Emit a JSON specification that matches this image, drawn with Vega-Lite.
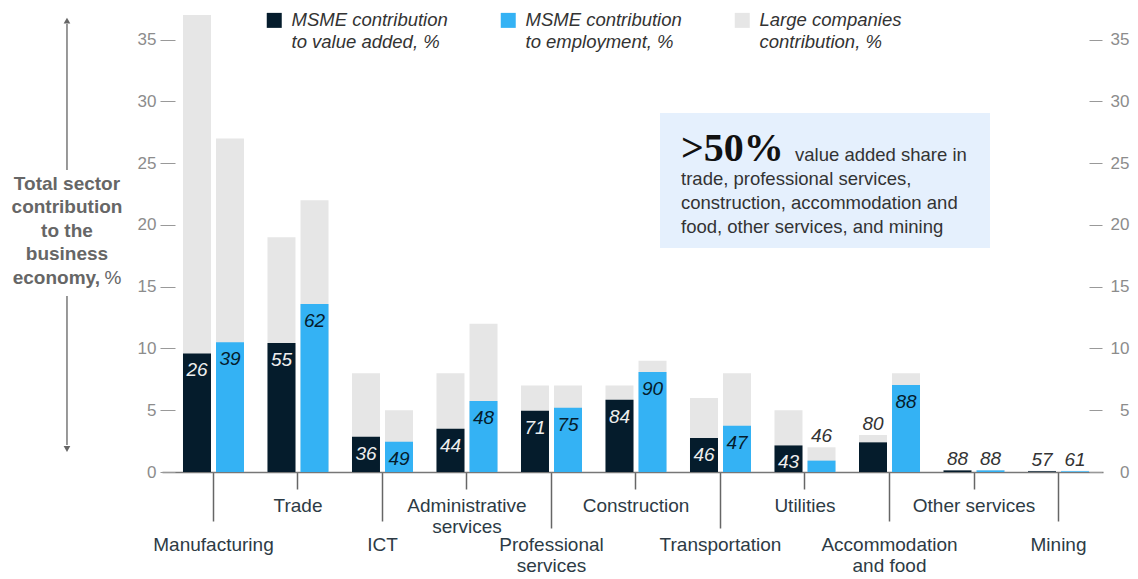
{
  "$schema": "https://vega.github.io/schema/vega-lite/v6.json",
  "width": 941,
  "height": 457,
  "autosize": "none",
  "padding": {"left": 162, "top": 15, "right": 35, "bottom": 107},
  "background": "white",
  "config": {"view": {"stroke": null}, "font": "Liberation Sans"},
  "datasets": {
    "bars": [
      {"sector": "Manufacturing", "measure": "VA", "msme": 9.6, "total": 37, "share": 26},
      {"sector": "Manufacturing", "measure": "EMP", "msme": 10.5, "total": 27, "share": 39},
      {"sector": "Trade", "measure": "VA", "msme": 10.45, "total": 19, "share": 55},
      {"sector": "Trade", "measure": "EMP", "msme": 13.6, "total": 22, "share": 62},
      {"sector": "ICT", "measure": "VA", "msme": 2.85, "total": 8, "share": 36},
      {"sector": "ICT", "measure": "EMP", "msme": 2.45, "total": 5, "share": 49},
      {"sector": "Administrative services", "measure": "VA", "msme": 3.5, "total": 8, "share": 44},
      {"sector": "Administrative services", "measure": "EMP", "msme": 5.75, "total": 12, "share": 48},
      {"sector": "Professional services", "measure": "VA", "msme": 4.95, "total": 7, "share": 71},
      {"sector": "Professional services", "measure": "EMP", "msme": 5.2, "total": 7, "share": 75},
      {"sector": "Construction", "measure": "VA", "msme": 5.85, "total": 7, "share": 84},
      {"sector": "Construction", "measure": "EMP", "msme": 8.1, "total": 9, "share": 90},
      {"sector": "Transportation", "measure": "VA", "msme": 2.75, "total": 6, "share": 46},
      {"sector": "Transportation", "measure": "EMP", "msme": 3.75, "total": 8, "share": 47},
      {"sector": "Utilities", "measure": "VA", "msme": 2.15, "total": 5, "share": 43},
      {"sector": "Utilities", "measure": "EMP", "msme": 0.92, "total": 2, "share": 46},
      {"sector": "Accommodation and food", "measure": "VA", "msme": 2.4, "total": 3, "share": 80},
      {"sector": "Accommodation and food", "measure": "EMP", "msme": 7.05, "total": 8, "share": 88},
      {"sector": "Other services", "measure": "VA", "msme": 0.13, "total": 0.15, "share": 88},
      {"sector": "Other services", "measure": "EMP", "msme": 0.13, "total": 0.15, "share": 88},
      {"sector": "Mining", "measure": "VA", "msme": 0.06, "total": 0.1, "share": 57},
      {"sector": "Mining", "measure": "EMP", "msme": 0.06, "total": 0.1, "share": 61}
    ]
  },
  "layer": [
    {
      "data": {"name": "bars"},
      "mark": {"type": "bar"},
      "encoding": {
        "x": {"field": "sector", "type": "nominal", "sort": null,
          "scale": {"domain": ["Manufacturing","Trade","ICT","Administrative services","Professional services","Construction","Transportation","Utilities","Accommodation and food","Other services","Mining"], "paddingInner": 0.278, "paddingOuter": 0.207, "align": 0.6},
          "axis": {"title": null, "labelAngle": 0, "labelOverlap": false, "labelLimit": 400, "labelFontSize": 19, "labelColor": "#2d3b45", "labelBaseline": "top", "labelLineHeight": 21,
            "domainColor": "#777777", "domainWidth": 1.5, "tickColor": "#666666", "tickWidth": 1.5,
            "tickSize": {"condition": [
              {"test": "indexof(['Manufacturing','ICT','Accommodation and food','Mining'], datum.value) >= 0", "value": 49},
              {"test": "indexof(['Professional services','Transportation'], datum.value) >= 0", "value": 56}
            ], "value": 17},
            "labelPadding": {"condition": [
              {"test": "indexof(['Manufacturing','ICT','Accommodation and food','Mining'], datum.value) >= 0", "value": 14}
            ], "value": 7},
            "labelExpr": "datum.label == 'Administrative services' ? ['Administrative','services'] : datum.label == 'Professional services' ? ['Professional','services'] : datum.label == 'Accommodation and food' ? ['Accommodation','and food'] : datum.label"
          }},
        "xOffset": {"field": "measure", "type": "nominal", "scale": {"domain": ["VA","EMP"], "paddingInner": 0.152, "paddingOuter": 0}},
        "y": {"field": "total", "type": "quantitative",
          "scale": {"domain": [0, 37], "nice": false},
          "axis": {"orient": "left", "title": null, "values": [0,5,10,15,20,25,30,35], "domain": false, "grid": false, "offset": -13, "tickSize": 15, "tickColor": "#999999", "tickWidth": 1, "labelPadding": 4, "labelFontSize": 17, "labelColor": "#8c8c8c"}},
        "color": {"datum": "LARGE", "type": "nominal",
          "scale": {"domain": ["VA","EMP","LARGE"], "range": ["#051c2c","#34b2f4","#e6e6e6"]},
          "legend": {"orient": "none", "legendX": 103, "legendY": -4, "direction": "horizontal", "title": null, "symbolType": "square", "symbolSize": 225, "symbolStrokeWidth": 0, "labelFontSize": 18.5, "labelFontStyle": "italic", "labelColor": "#333333", "labelLimit": 300, "labelOffset": 8, "columnPadding": 51,
            "encode": {"labels": {"update": {"lineHeight": {"value": 22}}}},
            "labelExpr": "datum.value == 'VA' ? ['MSME contribution','to value added, %'] : datum.value == 'EMP' ? ['MSME contribution','to employment, %'] : ['Large companies','contribution, %']"}}
      }
    },
    {
      "data": {"name": "bars"},
      "mark": {"type": "bar"},
      "encoding": {
        "x": {"field": "sector", "type": "nominal", "sort": null,
          "scale": {"domain": ["Manufacturing","Trade","ICT","Administrative services","Professional services","Construction","Transportation","Utilities","Accommodation and food","Other services","Mining"], "paddingInner": 0.278, "paddingOuter": 0.207, "align": 0.6},
          "axis": null},
        "xOffset": {"field": "measure", "type": "nominal", "scale": {"domain": ["VA","EMP"], "paddingInner": 0.152, "paddingOuter": 0}},
        "y": {"field": "msme", "type": "quantitative",
          "scale": {"domain": [0, 37], "nice": false},
          "axis": {"orient": "right", "title": null, "values": [0,5,10,15,20,25,30,35], "domain": false, "grid": false, "offset": -14, "tickSize": 13, "tickColor": "#999999", "tickWidth": 1, "labelPadding": 27, "labelAlign": "right", "labelFontSize": 17, "labelColor": "#8c8c8c"}},
        "color": {"field": "measure", "type": "nominal",
          "scale": {"domain": ["VA","EMP","LARGE"], "range": ["#051c2c","#34b2f4","#e6e6e6"]},
          "legend": {"orient": "none", "legendX": 103, "legendY": -4, "direction": "horizontal", "title": null, "symbolType": "square", "symbolSize": 225, "symbolStrokeWidth": 0, "labelFontSize": 18.5, "labelFontStyle": "italic", "labelColor": "#333333", "labelLimit": 300, "labelOffset": 8, "columnPadding": 51,
            "encode": {"labels": {"update": {"lineHeight": {"value": 22}}}},
            "labelExpr": "datum.value == 'VA' ? ['MSME contribution','to value added, %'] : datum.value == 'EMP' ? ['MSME contribution','to employment, %'] : ['Large companies','contribution, %']"}}
      }
    },
    {
      "data": {"name": "bars"},
      "transform": [{"filter": "!((datum.sector == 'Utilities' && datum.measure == 'EMP') || (datum.sector == 'Accommodation and food' && datum.measure == 'VA') || datum.sector == 'Other services' || datum.sector == 'Mining')"}],
      "mark": {"type": "text", "fontSize": 19, "fontStyle": "italic", "baseline": "middle", "dy": 17},
      "encoding": {
        "x": {"field": "sector", "type": "nominal", "sort": null,
          "scale": {"domain": ["Manufacturing","Trade","ICT","Administrative services","Professional services","Construction","Transportation","Utilities","Accommodation and food","Other services","Mining"], "paddingInner": 0.278, "paddingOuter": 0.207, "align": 0.6},
          "axis": null},
        "xOffset": {"field": "measure", "type": "nominal", "scale": {"domain": ["VA","EMP"], "paddingInner": 0.152, "paddingOuter": 0}},
        "y": {"field": "msme", "type": "quantitative", "scale": {"domain": [0, 37], "nice": false}, "axis": null},
        "text": {"field": "share", "type": "quantitative"},
        "color": {"condition": {"test": "datum.measure == 'VA'", "value": "#eeeeee"}, "value": "#051c2c"}
      }
    },
    {
      "data": {"name": "bars"},
      "transform": [{"filter": "(datum.sector == 'Utilities' && datum.measure == 'EMP') || (datum.sector == 'Accommodation and food' && datum.measure == 'VA') || datum.sector == 'Other services' || datum.sector == 'Mining'"}],
      "mark": {"type": "text", "fontSize": 19, "fontStyle": "italic", "baseline": "middle", "dy": -11, "color": "#333333"},
      "encoding": {
        "x": {"field": "sector", "type": "nominal", "sort": null,
          "scale": {"domain": ["Manufacturing","Trade","ICT","Administrative services","Professional services","Construction","Transportation","Utilities","Accommodation and food","Other services","Mining"], "paddingInner": 0.278, "paddingOuter": 0.207, "align": 0.6},
          "axis": null},
        "xOffset": {"field": "measure", "type": "nominal", "scale": {"domain": ["VA","EMP"], "paddingInner": 0.152, "paddingOuter": 0}},
        "y": {"field": "total", "type": "quantitative", "scale": {"domain": [0, 37], "nice": false}, "axis": null},
        "text": {"field": "share", "type": "quantitative"}
      }
    },
    {
      "data": {"values": [{}]},
      "mark": {"type": "rect", "color": "#e5f0fd"},
      "encoding": {
        "x": {"datum": 5.284, "type": "quantitative", "scale": {"domain": [-0.6095, 10.5266], "nice": false, "zero": false}, "axis": null},
        "x2": {"datum": 9.189},
        "y": {"datum": 29.07, "type": "quantitative", "scale": {"domain": [0, 37], "nice": false}, "axis": null},
        "y2": {"datum": 18.14}
      }
    },
    {
      "data": {"values": [{}]},
      "mark": {"type": "text", "text": ">50%", "font": "Liberation Serif", "fontWeight": "bold", "fontSize": 40, "align": "left", "baseline": "alphabetic", "color": "#111111"},
      "encoding": {
        "x": {"datum": 5.533, "type": "quantitative", "scale": {"domain": [-0.6095, 10.5266], "nice": false, "zero": false}, "axis": null},
        "y": {"datum": 25.18, "type": "quantitative", "scale": {"domain": [0, 37], "nice": false}, "axis": null}
      }
    },
    {
      "data": {"values": [{}]},
      "mark": {"type": "text", "text": "value added share in", "fontSize": 18.5, "align": "left", "baseline": "alphabetic", "color": "#333333"},
      "encoding": {
        "x": {"datum": 6.882, "type": "quantitative", "scale": {"domain": [-0.6095, 10.5266], "nice": false, "zero": false}, "axis": null},
        "y": {"datum": 25.18, "type": "quantitative", "scale": {"domain": [0, 37], "nice": false}, "axis": null}
      }
    },
    {
      "data": {"values": [{}]},
      "mark": {"type": "text", "text": ["trade, professional services,", "construction, accommodation and", "food, other services, and mining"], "lineHeight": 24, "fontSize": 18.5, "align": "left", "baseline": "alphabetic", "color": "#333333"},
      "encoding": {
        "x": {"datum": 5.533, "type": "quantitative", "scale": {"domain": [-0.6095, 10.5266], "nice": false, "zero": false}, "axis": null},
        "y": {"datum": 23.24, "type": "quantitative", "scale": {"domain": [0, 37], "nice": false}, "axis": null}
      }
    },
    {
      "data": {"values": [{}]},
      "mark": {"type": "text", "text": ["Total sector", "contribution", "to the", "business"], "lineHeight": 23.5, "fontSize": 19, "fontWeight": "bold", "align": "center", "baseline": "middle", "color": "#666666"},
      "encoding": {
        "x": {"datum": -1.734, "type": "quantitative", "scale": {"domain": [-0.6095, 10.5266], "nice": false, "zero": false}, "axis": null},
        "y": {"datum": 23.32, "type": "quantitative", "scale": {"domain": [0, 37], "nice": false}, "axis": null}
      }
    },
    {
      "data": {"values": [{}]},
      "mark": {"type": "text", "text": "economy,", "fontSize": 19, "fontWeight": "bold", "align": "right", "baseline": "middle", "dx": 33, "color": "#666666"},
      "encoding": {
        "x": {"datum": -1.734, "type": "quantitative", "scale": {"domain": [-0.6095, 10.5266], "nice": false, "zero": false}, "axis": null},
        "y": {"datum": 15.71, "type": "quantitative", "scale": {"domain": [0, 37], "nice": false}, "axis": null}
      }
    },
    {
      "data": {"values": [{}]},
      "mark": {"type": "text", "text": "%", "fontSize": 19, "align": "left", "baseline": "middle", "dx": 37.5, "color": "#666666"},
      "encoding": {
        "x": {"datum": -1.734, "type": "quantitative", "scale": {"domain": [-0.6095, 10.5266], "nice": false, "zero": false}, "axis": null},
        "y": {"datum": 15.71, "type": "quantitative", "scale": {"domain": [0, 37], "nice": false}, "axis": null}
      }
    },
    {
      "data": {"values": [{"from": 36.27, "to": 24.45}, {"from": 14.25, "to": 2.19}]},
      "mark": {"type": "rule", "color": "#777777", "strokeWidth": 1.5},
      "encoding": {
        "x": {"datum": -1.734, "type": "quantitative", "scale": {"domain": [-0.6095, 10.5266], "nice": false, "zero": false}, "axis": null},
        "y": {"field": "from", "type": "quantitative", "scale": {"domain": [0, 37], "nice": false}, "axis": null},
        "y2": {"field": "to"}
      }
    },
    {
      "data": {"values": [{}]},
      "mark": {"type": "point", "shape": "triangle-up", "filled": true, "size": 45, "color": "#666666", "opacity": 1},
      "encoding": {
        "x": {"datum": -1.734, "type": "quantitative", "scale": {"domain": [-0.6095, 10.5266], "nice": false, "zero": false}, "axis": null},
        "y": {"datum": 36.55, "type": "quantitative", "scale": {"domain": [0, 37], "nice": false}, "axis": null}
      }
    },
    {
      "data": {"values": [{}]},
      "mark": {"type": "point", "shape": "triangle-down", "filled": true, "size": 45, "color": "#666666", "opacity": 1},
      "encoding": {
        "x": {"datum": -1.734, "type": "quantitative", "scale": {"domain": [-0.6095, 10.5266], "nice": false, "zero": false}, "axis": null},
        "y": {"datum": 1.86, "type": "quantitative", "scale": {"domain": [0, 37], "nice": false}, "axis": null}
      }
    }
  ],
  "resolve": {"scale": {"x": "independent"}, "axis": {"x": "independent", "y": "independent"}}
}
